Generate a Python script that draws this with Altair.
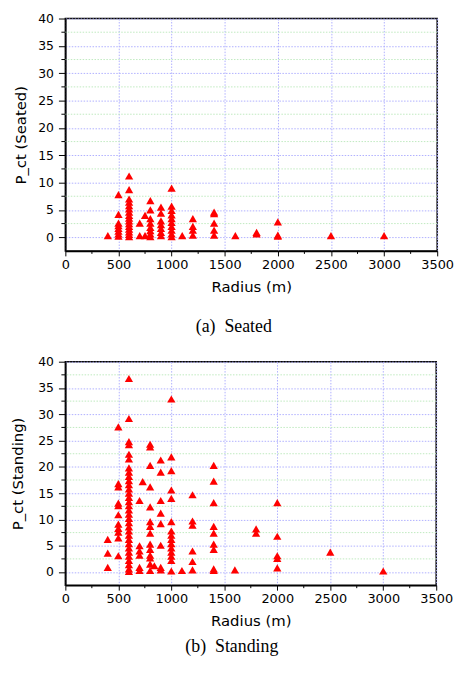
import altair as alt
import pandas as pd

# ---------------- data ----------------
x_ticks = [0, 500, 1000, 1500, 2000, 2500, 3000, 3500]
y_ticks = [0, 5, 10, 15, 20, 25, 30, 35, 40]
y_minor = [2.5, 7.5, 12.5, 17.5, 22.5, 27.5, 32.5, 37.5]
x_minor = [250, 750, 1250, 1750, 2250, 2750, 3250]

seated_radii = [400, 500, 600, 700, 750, 800, 900, 1000, 1100, 1200, 1400, 1600, 1800, 2000, 2500, 3000]
seated_values = [
    [0.3],
    [7.8, 4.2, 2.6, 2.1, 1.6, 1.1, 0.6, 0.2],
    [11.2, 8.7, 7.0, 6.4, 5.8, 5.2, 4.6, 4.0, 3.5, 3.0, 2.5, 2.0, 1.5, 1.0, 0.5, 0.1],
    [2.6, 0.3],
    [4.0, 0.3],
    [6.7, 5.0, 3.4, 2.6, 1.8, 1.2, 0.6, 0.1],
    [5.5, 4.4, 3.0, 2.3, 1.6, 0.9, 0.3],
    [9.0, 5.7, 4.9, 4.1, 3.4, 2.7, 2.0, 1.3, 0.6, 0.1],
    [0.3],
    [3.4, 2.0, 1.3, 0.4],
    [4.6, 4.3, 2.6, 1.3, 0.4],
    [0.3],
    [0.9, 0.6],
    [2.8, 0.4, 0.2],
    [0.3],
    [0.3],
]

standing_radii = [400, 500, 600, 700, 730, 800, 840, 900, 1000, 1100, 1200, 1400, 1600, 1800, 2000, 2500, 3000]
standing_values = [
    [6.2, 3.6, 0.9],
    [27.6, 16.8, 16.2, 13.1, 12.6, 10.9, 9.1, 8.3, 7.6, 6.5, 3.1],
    [36.8, 29.2, 24.8, 24.2, 22.4, 21.5, 19.8, 19.0, 18.2, 17.4, 16.6, 15.8, 15.0, 14.2,
     13.4, 12.6, 11.8, 11.0, 10.2, 9.4, 8.6, 7.8, 7.0, 6.2, 5.4, 4.6, 3.8, 3.0, 2.2, 1.4, 0.6, 0.1],
    [13.6, 5.0, 4.0, 3.2, 0.9, 0.3],
    [17.2],
    [24.3, 23.8, 20.3, 16.2, 12.4, 9.6, 8.7, 7.4, 5.3, 4.3, 3.2, 2.7, 1.5, 0.3],
    [1.2],
    [21.3, 19.0, 13.6, 11.2, 9.2, 5.1, 0.9, 0.4],
    [32.9, 21.9, 19.3, 15.6, 14.0, 9.6, 7.8, 7.0, 6.2, 5.4, 4.6, 3.8, 3.0, 2.2, 0.2],
    [0.3],
    [14.7, 9.7, 8.9, 4.0, 2.0, 0.4],
    [20.3, 17.3, 13.2, 8.7, 7.4, 5.3, 4.3, 0.6, 0.3],
    [0.4],
    [8.2, 7.4],
    [13.2, 6.8, 3.1, 2.6, 0.8],
    [3.8],
    [0.2],
]


def to_frame(radii, values):
    rows = []
    for r, vals in zip(radii, values):
        for v in vals:
            rows.append({"radius": r, "p": v})
    return pd.DataFrame(rows)


FONT = "DejaVu Sans"


def panel(df, ytitle, caption, w, h, title_pad, cap_offset):
    xs = alt.Scale(domain=[0, 3500], nice=False, zero=False)
    ys = alt.Scale(domain=[-2.5, 40], nice=False, zero=False)

    x_axis = alt.Axis(
        values=x_ticks, title="Radius (m)", format="d",
        grid=True, gridColor="#b0b0ff", gridDash=[1.5, 1.5], gridWidth=1,
        tickSize=5, tickColor="black", domainColor="black", domainWidth=1.5,
        labelFont=FONT, labelFontSize=13, labelColor="black", labelPadding=3,
        labelFlush=False, labelOverlap=False,
        titleFont=FONT, titleFontSize=15, titleFontWeight="normal",
        titleColor="black", titlePadding=8)
    y_axis = alt.Axis(
        values=y_ticks, title=ytitle, format="d",
        grid=True, gridColor="#b0b0ff", gridDash=[1.5, 1.5], gridWidth=1,
        tickSize=7, tickColor="black", domainColor="black", domainWidth=1.5,
        labelFont=FONT, labelFontSize=12.5, labelColor="black", labelPadding=5,
        labelFlush=False, labelOverlap=False,
        titleFont=FONT, titleFontSize=15, titleFontWeight="normal",
        titleColor="black", titlePadding=title_pad)

    X = alt.X("radius:Q", scale=xs, axis=x_axis)
    Y = alt.Y("p:Q", scale=ys, axis=y_axis)

    green = alt.Chart(pd.DataFrame({"p": y_minor})).mark_rule(
        color="#bfeabf", strokeDash=[1.5, 1.5], strokeWidth=1
    ).encode(y=Y)

    y_minor_ticks = alt.Chart(pd.DataFrame({"p": y_minor})).mark_rule(
        color="black", strokeWidth=1
    ).encode(y=Y, x=alt.value(-4), x2=alt.value(0))

    x_minor_ticks = alt.Chart(pd.DataFrame({"radius": x_minor})).mark_rule(
        color="black", strokeWidth=1
    ).encode(x=X, y=alt.value(h), y2=alt.value(h + 3))

    pts = alt.Chart(df).mark_point(
        shape="triangle-up", filled=True, color="#ff0000", size=70, opacity=1
    ).encode(x=X, y=Y)

    return alt.layer(green, y_minor_ticks, x_minor_ticks, pts).properties(
        width=w, height=h,
        title=alt.TitleParams(
            caption, orient="bottom", anchor="middle", frame="bounds",
            font="Liberation Serif", fontSize=18, fontWeight="normal",
            color="black", offset=cap_offset),
    )


top = panel(to_frame(seated_radii, seated_values), "P_ct (Seated)",
            "(a)\u00a0 Seated", 376, 235, 9, 24)
bottom = panel(to_frame(standing_radii, standing_values), "P_ct (Standing)",
               "(b)\u00a0 Standing", 375, 226, 12, 10)

chart = alt.vconcat(top, bottom, spacing=18).properties(
    padding={"left": 2, "top": 0, "right": 0, "bottom": 0}
).configure_view(stroke="black", strokeWidth=1.5)

chart.save("out.html", embed_options={"renderer": "svg", "actions": False})
